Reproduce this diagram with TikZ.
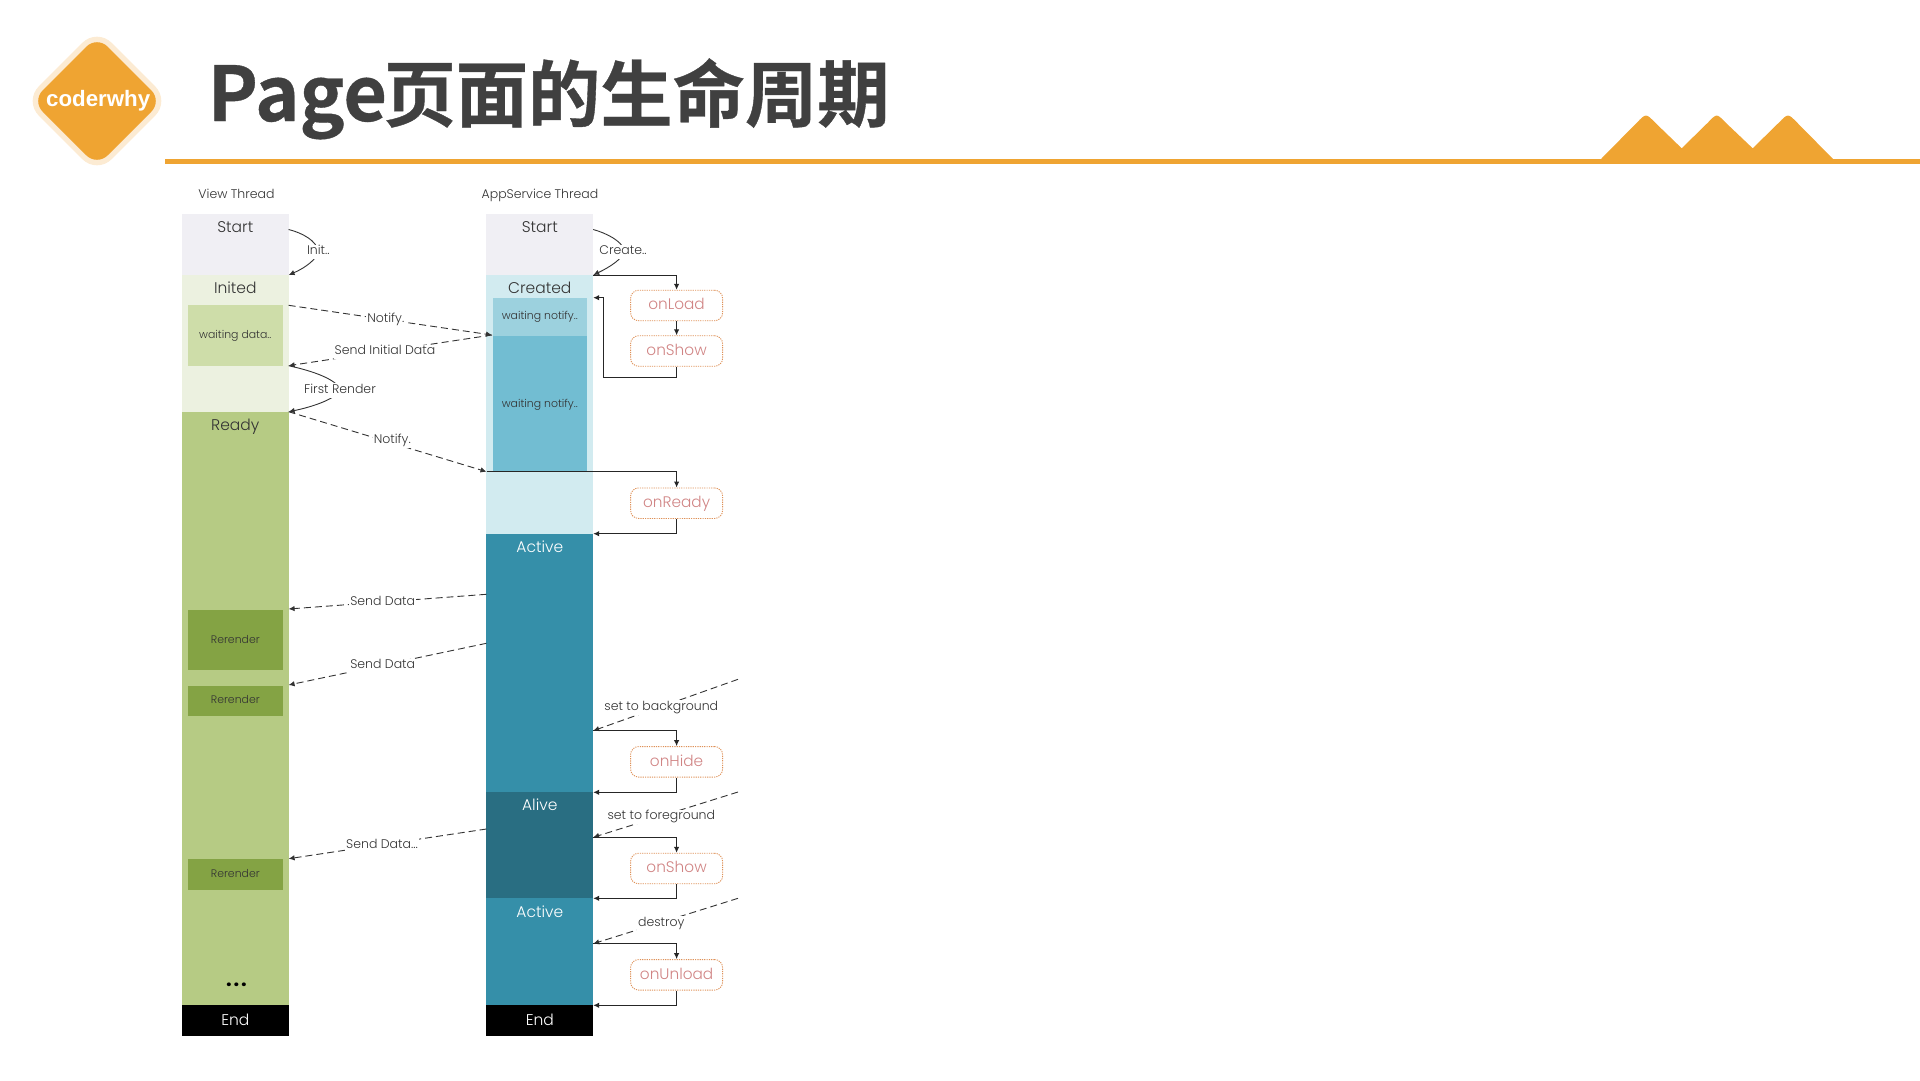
\documentclass[tikz,border=0pt]{standalone}
\usepackage{fontspec}
\usetikzlibrary{arrows.meta,calc}
\setmainfont{Poppins Light}
\newfontfamily\titlefont{Noto Sans CJK SC Bold}[FakeBold=0.5]
\newfontfamily\logofont{Liberation Sans Bold}
\newfontfamily\dotfont{Poppins Bold}
\definecolor{accent}{HTML}{EFA432}
\definecolor{halo}{HTML}{FCEBD3}
\definecolor{ink}{HTML}{333333}
\definecolor{titleink}{HTML}{404040}
\definecolor{cstart}{HTML}{F0EFF4}
\definecolor{cinited}{HTML}{ECF1E0}
\definecolor{cwait}{HTML}{CEDDA9}
\definecolor{cready}{HTML}{B6CB84}
\definecolor{crender}{HTML}{84A344}
\definecolor{ccreated}{HTML}{D2EBF0}
\definecolor{cwn}{HTML}{9CD1DE}
\definecolor{cwnb}{HTML}{72BDD2}
\definecolor{cactive}{HTML}{358FA9}
\definecolor{calive}{HTML}{296E82}
\definecolor{cboxline}{HTML}{DE9158}
\definecolor{cboxtext}{HTML}{D08484}
\newcommand\fsz[1]{\fontsize{#1}{#1}\selectfont}
\newcommand\bandbox[6]{%
  \pgfmathsetmacro\bw{#4-#2}\pgfmathsetmacro\bh{#5-#3}%
  \node[bandst,fill=#6,minimum width=\bw pt,minimum height=\bh pt] (#1) at (#2,#3) {};}
\tikzset{
  x=1pt,y=-1pt,
  bandst/.style={rectangle,draw=none,inner sep=0pt,outer sep=0pt,anchor=north west},
  txt/.style={inner sep=1pt,text height=.75em,text depth=.2em,text=ink},
  statetxt/.style={txt,font=\fsz{15.5},yshift=-3.4pt},
  whitetxt/.style={statetxt,text=white},
  smalltxt/.style={txt,font=\fsz{10.9},yshift=-1.2pt},
  linklabel/.style={txt,font=\fsz{12.5},fill=white,inner ysep=2.5pt,yshift=-2pt},
  hook/.style={rectangle,rounded corners=8pt,draw=cboxline,dash pattern=on 1.2pt off 1.1pt,line width=.9pt,
    minimum width=92pt,minimum height=30.5pt,inner sep=0pt,text=cboxtext,font=\fsz{15.3},
    text height=1.05em,text depth=.2em},
  flow/.style={draw=black!85,line width=1pt,-{Latex[length=6pt,width=5.5pt]}},
  msg/.style={draw=ink,line width=.9pt,dash pattern=on 7pt off 4pt,-{Latex[length=6pt,width=5.5pt]}},
  curvelink/.style={draw=ink,line width=.9pt,-{Latex[length=6pt,width=5.5pt]}},
}
\begin{document}
\begin{tikzpicture}
\useasboundingbox (0,0) rectangle (1920,1080);
% header
\fill[accent] (165,159.3) rectangle (1920,164);
\fill[accent] (1600,160) -- (1637,122.5) .. controls (1646,113.3) .. (1655,122.5) -- (1681.7,148.3)
  -- (1708,122.5) .. controls (1716.7,113.3) .. (1725.5,122.5) -- (1752.7,148.3)
  -- (1779,122.5) .. controls (1788,113.3) .. (1797,122.5) -- (1834,160) -- cycle;
\draw[draw=halo,line width=11pt,fill=accent,rounded corners=15pt]
  (97,36) -- (162,101) -- (97,166) -- (32,101) -- cycle;
\fill[accent,rounded corners=15pt] (97,36) -- (162,101) -- (97,166) -- (32,101) -- cycle;
\node[inner sep=0pt,text=white,font=\logofont\fsz{22.3}] (logo) at (98.2,101) {coderwhy};
\node[inner sep=0pt,anchor=base west,text=titleink,font=\titlefont\fsz{72.3}] (title) at (207.5,121) {{\fsz{75.5}Page}\kern-3.6pt 页面的生命周期};
% column titles
\node[txt,font=\fsz{12.5},yshift=-2.4pt] (vtitle) at (236.5,193.3) {View Thread};
\node[txt,font=\fsz{12.5},yshift=-2.4pt] (atitle) at (540,193.3) {AppService Thread};
% view thread
\bandbox{vstart}{182}{214}{288.6}{275}{cstart}
\bandbox{vinited}{182}{275}{288.6}{411.7}{cinited}
\bandbox{vwait}{188}{305.3}{282.5}{366}{cwait}
\bandbox{vready}{182}{411.7}{288.6}{1005.3}{cready}
\bandbox{vr1}{188}{609.7}{282.5}{670.3}{crender}
\bandbox{vr2}{188}{686}{282.5}{716.3}{crender}
\bandbox{vr3}{188}{859.3}{282.5}{889.7}{crender}
\bandbox{vend}{182}{1005.3}{288.6}{1035.7}{black}
% app service thread
\bandbox{astart}{486.4}{214}{593.2}{275}{cstart}
\bandbox{acreated}{486.4}{275}{593.2}{533.7}{ccreated}
\bandbox{aw1}{492.6}{297.7}{587}{335.7}{cwn}
\bandbox{aw2}{492.6}{335.7}{587}{472.3}{cwnb}
\bandbox{aact1}{486.4}{533.7}{593.2}{792.3}{cactive}
\bandbox{aalive}{486.4}{792.3}{593.2}{898.3}{calive}
\bandbox{aact2}{486.4}{898.3}{593.2}{1005.3}{cactive}
\bandbox{aend}{486.4}{1005.3}{593.2}{1035.7}{black}
% band texts
\node[statetxt] (tvs) at (235.3,226) {Start};
\node[statetxt] (tvi) at (235.3,287.3) {Inited};
\node[statetxt] (tvr) at (235.3,424) {Ready};
\node[whitetxt] (tve) at (235.3,1019.3) {End};
\node[txt,font=\dotfont\fsz{20},anchor=base,inner sep=0pt,text=black] (tdots) at (236.5,986.5) {.\kern1.9pt.\kern1.9pt.};
\node[smalltxt] (tvw) at (235.3,335) {waiting data..};
\node[smalltxt] (tr1) at (235.3,639.3) {Rerender};
\node[smalltxt] (tr2) at (235.3,700) {Rerender};
\node[smalltxt] (tr3) at (235.3,874) {Rerender};
\node[statetxt] (tas) at (539.8,226) {Start};
\node[statetxt] (tac) at (539.8,287.3) {Created};
\node[smalltxt] (taw1) at (539.8,316) {waiting notify..};
\node[smalltxt] (taw2) at (539.8,403.3) {waiting notify..};
\node[whitetxt] (taa1) at (539.8,546) {Active};
\node[whitetxt] (taal) at (539.8,804.7) {Alive};
\node[whitetxt] (taa2) at (539.8,911) {Active};
\node[whitetxt] (tae) at (539.8,1019.3) {End};
% hooks
\node[hook] (onload) at (676.6,305.5) {onLoad};
\node[hook] (onshow) at (676.6,351) {onShow};
\node[hook] (onready) at (676.6,503.2) {onReady};
\node[hook] (onhide) at (676.6,761.8) {onHide};
\node[hook] (onshowb) at (676.6,868.5) {onShow};
\node[hook] (onunload) at (676.6,974.8) {onUnload};
% free ends
\coordinate (vnotifyA) at (288.6,305.3);
\coordinate (wnmid) at (492,335);
\coordinate (vsendI) at (288.6,365.7);
\coordinate (vreadyC) at (288.6,411.7);
\coordinate (anotifyE) at (486.5,471.7);
\coordinate (vstartR) at (288.6,229.5);
\coordinate (astartR) at (593.2,229.5);
\coordinate (acrR) at (593.2,275);
\coordinate (vinR) at (288.6,275);
\coordinate (wnR) at (593.2,297.7);
\coordinate (loopB) at (603,377.3);
\coordinate (loopT) at (603,297.7);
\coordinate (actR) at (593.2,533.7);
\coordinate (sd1a) at (486.4,594.3);
\coordinate (sd1b) at (288.6,609);
\coordinate (sd2a) at (486.4,643.3);
\coordinate (sd2b) at (288.6,685);
\coordinate (sd3a) at (486.4,829);
\coordinate (sd3b) at (288.6,858.7);
\coordinate (bgA) at (738,679.3);
\coordinate (bgB) at (593.2,730.7);
\coordinate (aliveR) at (593.2,792.3);
\coordinate (fgA) at (738,792);
\coordinate (fgB) at (593.2,837.3);
\coordinate (act2R) at (593.2,898.3);
\coordinate (deA) at (738,898.3);
\coordinate (deB) at (593.2,943.7);
\coordinate (endR) at (593.2,1005.3);
% connectors
\draw[curvelink] (vstartR) .. controls (303,233) and (316,241) .. (318,250) .. controls (319,258) and (305,268) .. (vinR);
\draw[curvelink] (astartR) .. controls (606,233) and (622,241) .. (624,250) .. controls (625,258) and (608,268) .. (acrR);
\draw[curvelink] (vsendI) .. controls (308,370) and (332,377) .. (340,388) .. controls (340,398) and (312,407) .. (vreadyC);
\draw[msg] (vnotifyA) -- (wnmid);
\draw[msg] (wnmid) -- (vsendI);
\draw[msg] (vreadyC) -- (anotifyE);
\draw[msg] (sd1a) -- (sd1b);
\draw[msg] (sd2a) -- (sd2b);
\draw[msg] (sd3a) -- (sd3b);
\draw[msg] (bgA) -- (bgB);
\draw[msg] (fgA) -- (fgB);
\draw[msg] (deA) -- (deB);
\draw[flow] (acrR) -| (onload.north);
\draw[flow] (onload.south) -- (onshow.north);
\draw[flow] (onshow.south) |- (loopB) -- (loopT) -- (wnR);
\draw[flow] (anotifyE) -| (onready.north);
\draw[flow] (onready.south) |- (actR);
\draw[flow] (bgB) -| (onhide.north);
\draw[flow] (onhide.south) |- (aliveR);
\draw[flow] (fgB) -| (onshowb.north);
\draw[flow] (onshowb.south) |- (act2R);
\draw[flow] (deB) -| (onunload.north);
\draw[flow] (onunload.south) |- (endR);
% connector labels
\node[linklabel] (linit) at (318.4,250) {Init..};
\node[linklabel] (lcreate) at (623,250) {Create..};
\node[linklabel] (lnot1) at (385.8,317.3) {Notify.};
\node[linklabel] (lsi) at (385,350) {Send Initial Data};
\node[linklabel] (lfr) at (340,388.3) {First Render};
\node[linklabel] (lnot2) at (392.3,438.7) {Notify.};
\node[linklabel] (lsd1) at (382.7,601) {Send Data};
\node[linklabel] (lsd2) at (382.7,664) {Send Data};
\node[linklabel] (lsd3) at (382,843.3) {Send Data...};
\node[linklabel] (lbg) at (661.3,705.3) {set to background};
\node[linklabel] (lfg) at (661.3,815) {set to foreground};
\node[linklabel] (lde) at (661.3,921.7) {destroy};
\end{tikzpicture}
\end{document}
